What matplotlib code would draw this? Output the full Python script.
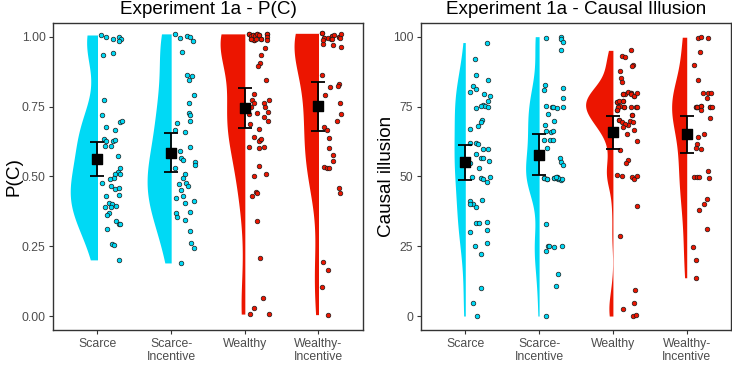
import numpy as np
import matplotlib
matplotlib.use("Agg")
import matplotlib.pyplot as plt

plt.rcParams['font.family'] = ['Liberation Sans', 'DejaVu Sans']

categories = ["Scarce", "Scarce-\nIncentive", "Wealthy", "Wealthy-\nIncentive"]
group_colors = ["#00D9F5", "#00D9F5", "#EC1500", "#EC1500"]

# ---------------- Experiment 1a - P(C) ----------------
pc_scarce = [1.006, 1.000, 0.990, 1.000, 0.993, 0.986, 0.935, 0.941, 0.773, 0.719, 0.678, 0.666,
             0.694, 0.699, 0.634, 0.625, 0.608, 0.627, 0.631, 0.608, 0.572, 0.530, 0.515, 0.509,
             0.508, 0.495, 0.489, 0.477, 0.465, 0.453, 0.459, 0.435, 0.429, 0.405, 0.401, 0.392,
             0.389, 0.394, 0.370, 0.363, 0.340, 0.328, 0.328, 0.313, 0.257, 0.256, 0.201]
pc_scarce_dx = [0.05, 0.12, 0.21, 0.29, 0.32, 0.29, 0.08, 0.21, 0.09, 0.06, 0.11, 0.24,
                0.30, 0.33, 0.09, 0.11, 0.10, 0.21, 0.24, 0.19, 0.28, 0.31, 0.28, 0.30,
                0.24, 0.22, 0.17, 0.06, 0.19, 0.24, 0.29, 0.29, 0.12, 0.16, 0.20, 0.10,
                0.19, 0.25, 0.15, 0.13, 0.25, 0.29, 0.31, 0.13, 0.20, 0.23, 0.29]

pc_scarce_inc = [1.010, 0.995, 1.002, 1.000, 0.986, 0.944, 0.862, 0.860, 0.844, 0.790, 0.763, 0.727,
                 0.719, 0.699, 0.690, 0.665, 0.658, 0.606, 0.589, 0.565, 0.559, 0.552, 0.541, 0.530,
                 0.507, 0.495, 0.473, 0.477, 0.466, 0.452, 0.422, 0.428, 0.404, 0.411, 0.369, 0.354,
                 0.371, 0.342, 0.304, 0.262, 0.244, 0.190]
pc_scarce_inc_dx = [0.05, 0.12, 0.21, 0.26, 0.30, 0.15, 0.22, 0.28, 0.24, 0.31, 0.24, 0.24,
                    0.25, 0.25, 0.08, 0.05, 0.19, 0.25, 0.12, 0.14, 0.16, 0.33, 0.32, 0.05,
                    0.19, 0.16, 0.11, 0.20, 0.23, 0.13, 0.07, 0.16, 0.19, 0.31, 0.06, 0.08,
                    0.25, 0.19, 0.26, 0.27, 0.31, 0.14]

# the first ten points of the top cluster are counted twice: overlapping, hidden points at 1.0
pc_wealthy = [1.010, 1.002, 1.005, 1.001, 1.010, 1.005, 0.993, 0.988, 0.990, 1.008,
              1.010, 1.002, 1.005, 1.001, 1.010, 1.005, 0.993, 0.988, 0.990, 1.008, 1.000, 0.988,
              0.990, 0.960, 0.936, 0.905, 0.895, 0.844, 0.793, 0.775, 0.763, 0.763, 0.774, 0.750,
              0.747, 0.725, 0.730, 0.723, 0.711, 0.698, 0.686, 0.669, 0.642, 0.631, 0.625, 0.633,
              0.605, 0.600, 0.606, 0.536, 0.508, 0.502, 0.444, 0.440, 0.429, 0.339, 0.207, 0.063,
              0.029, 0.007, 0.007]
pc_wealthy_dx = [0.05, 0.08, 0.11, 0.14, 0.16, 0.19, 0.22, 0.13, 0.09, 0.30,
                 0.05, 0.08, 0.11, 0.14, 0.16, 0.19, 0.22, 0.13, 0.09, 0.30, 0.30, 0.30,
                 0.15, 0.28, 0.22, 0.20, 0.18, 0.29, 0.12, 0.10, 0.12, 0.26, 0.33, 0.28,
                 0.08, 0.16, 0.32, 0.06, 0.26, 0.31, 0.07, 0.19, 0.13, 0.20, 0.19, 0.22,
                 0.06, 0.19, 0.26, 0.19, 0.29, 0.12, 0.15, 0.17, 0.10, 0.16, 0.20, 0.25,
                 0.13, 0.07, 0.33]

pc_wealthy_inc = [1.012, 0.994, 1.002, 1.000,
                  1.012, 0.994, 0.973, 0.996, 1.002, 1.005, 0.990, 0.990, 1.000, 1.010, 0.996, 0.969,
                  0.964, 0.988, 0.862, 0.820, 0.829, 0.824, 0.790, 0.763, 0.722, 0.699, 0.678, 0.667,
                  0.637, 0.600, 0.577, 0.556, 0.534, 0.530, 0.529, 0.459, 0.440, 0.193, 0.163, 0.103,
                  0.005]
pc_wealthy_inc_dx = [0.05, 0.08, 0.18, 0.28,
                     0.05, 0.08, 0.06, 0.13, 0.18, 0.21, 0.17, 0.19, 0.28, 0.31, 0.29, 0.20,
                     0.31, 0.06, 0.05, 0.16, 0.28, 0.27, 0.09, 0.29, 0.30, 0.25, 0.07, 0.12,
                     0.14, 0.14, 0.20, 0.20, 0.08, 0.12, 0.14, 0.28, 0.29, 0.06, 0.13, 0.05,
                     0.13]

pc_means = [0.561, 0.585, 0.745, 0.752]
pc_lower = [0.501, 0.514, 0.672, 0.664]
pc_upper = [0.622, 0.654, 0.815, 0.838]

# ---------------- Experiment 1a - Causal Illusion ----------------
ci_scarce = [97.9, 92.0, 86.2, 84.5, 82.3, 81.3, 80.1, 79.4, 78.7, 76.8, 74.6, 75.5, 75.1, 75.3, 75.0,
             70.0, 69.6, 67.9, 66.8, 61.9, 61.9, 61.7, 59.9, 58.0, 59.8, 56.7, 56.6, 55.5, 54.9, 52.9,
             49.7, 49.3, 48.9, 47.9, 49.7, 41.5, 41.1, 40.0, 40.0, 39.0, 33.2, 33.2, 33.8, 30.8, 30.1,
             26.0, 25.0, 22.1, 9.9, 4.6, 0.0]
ci_scarce_dx = [0.30, 0.13, 0.14, 0.31, 0.11, 0.14, 0.07, 0.26, 0.33, 0.31, 0.15, 0.24, 0.27, 0.21, 0.31,
                0.23, 0.21, 0.17, 0.07, 0.06, 0.15, 0.17, 0.31, 0.15, 0.24, 0.21, 0.24, 0.32, 0.07, 0.18,
                0.09, 0.21, 0.24, 0.29, 0.33, 0.22, 0.06, 0.10, 0.06, 0.15, 0.14, 0.18, 0.29, 0.29, 0.07,
                0.29, 0.13, 0.21, 0.21, 0.11, 0.16]

ci_scarce_inc = [49.5, 49.1, 49.5, 49.6,
                 99.6, 100.0, 99.0, 98.2, 95.2, 82.8, 81.0, 81.6, 78.0, 75.0, 75.1, 74.8, 75.0, 74.6,
                 72.4, 69.9, 68.3, 66.2, 66.0, 66.3, 63.0, 63.0, 63.1, 60.2, 56.6, 55.2, 54.1, 49.5,
                 49.1, 49.5, 49.6, 49.1, 48.8, 49.0, 49.3, 49.8, 32.8, 25.0, 25.0, 24.6, 25.0, 23.1,
                 15.1, 10.8, 0.0]
ci_scarce_inc_dx = [0.07, 0.11, 0.20, 0.24,
                    0.09, 0.29, 0.30, 0.33, 0.29, 0.08, 0.06, 0.33, 0.32, 0.33, 0.09, 0.17, 0.19, 0.24,
                    0.12, 0.20, 0.08, 0.09, 0.16, 0.19, 0.07, 0.15, 0.19, 0.11, 0.28, 0.30, 0.33, 0.07,
                    0.11, 0.20, 0.24, 0.26, 0.29, 0.31, 0.26, 0.23, 0.10, 0.12, 0.14, 0.20, 0.31, 0.09,
                    0.25, 0.23, 0.09]

ci_wealthy = [70.3, 71.8, 73.8, 75.0, 74.9, 76.7, 76.9, 78.6, 79.3, 79.9,
              95.1, 93.1, 92.9, 89.9, 89.4, 87.8, 85.3, 83.7, 79.5, 80.3, 79.9, 79.4, 78.6, 79.9, 79.3,
              76.7, 76.8, 76.9, 74.9, 75.1, 75.0, 73.8, 74.7, 74.9, 75.0, 71.8, 70.3, 69.3, 69.8, 68.3,
              69.4, 68.8, 67.5, 66.7, 65.0, 62.7, 59.5, 55.8, 54.7, 50.4, 50.2, 49.7, 48.9, 50.1, 39.5,
              28.5, 9.4, 4.5, 2.6, 0.0, 0.3]
ci_wealthy_dx = [0.08, 0.26, 0.06, 0.07, 0.15, 0.05, 0.14, 0.28, 0.13, 0.24,
                 0.25, 0.12, 0.17, 0.27, 0.26, 0.10, 0.11, 0.12, 0.17, 0.21, 0.24, 0.25, 0.28, 0.33, 0.13,
                 0.05, 0.08, 0.14, 0.15, 0.10, 0.07, 0.06, 0.24, 0.31, 0.33, 0.26, 0.08, 0.12, 0.23, 0.21,
                 0.27, 0.17, 0.14, 0.29, 0.19, 0.32, 0.09, 0.20, 0.18, 0.06, 0.12, 0.26, 0.29, 0.33, 0.32,
                 0.10, 0.30, 0.28, 0.14, 0.27, 0.31]

ci_wealthy_inc = [74.8, 75.0, 75.1, 74.7,
                  99.6, 99.8, 99.5, 94.6, 90.0, 84.5, 79.8, 80.0, 79.7, 77.9, 74.8, 75.0, 75.1, 73.6,
                  74.7, 74.8, 71.0, 65.2, 64.1, 61.6, 60.2, 59.8, 49.7, 49.8, 49.7, 51.8, 49.5, 41.9,
                  40.0, 38.1, 31.2, 24.7, 19.9, 13.7]
ci_wealthy_inc_dx = [0.12, 0.14, 0.19, 0.32,
                     0.15, 0.19, 0.29, 0.18, 0.10, 0.15, 0.22, 0.29, 0.33, 0.27, 0.12, 0.14, 0.19, 0.19,
                     0.32, 0.34, 0.32, 0.23, 0.15, 0.14, 0.13, 0.19, 0.10, 0.14, 0.17, 0.29, 0.30, 0.27,
                     0.24, 0.17, 0.28, 0.09, 0.13, 0.13]

ci_means = [55.3, 57.8, 65.8, 65.2]
ci_lower = [48.8, 50.5, 59.8, 58.3]
ci_upper = [61.4, 65.3, 71.5, 71.7]


def nrd0(x):
    x = np.asarray(x, float)
    sd = np.std(x, ddof=1)
    iqr = np.subtract(*np.percentile(x, [75, 25]))
    lo = min(sd, iqr / 1.34) if iqr > 0 else sd
    return 0.9 * lo * len(x) ** -0.2


def kde(x, grid):
    x = np.asarray(x, float)
    bw = nrd0(x)
    z = (grid[:, None] - x[None, :]) / bw
    return np.exp(-0.5 * z ** 2).sum(axis=1) / (len(x) * bw * np.sqrt(2 * np.pi))


def panel(ax, groups, offsets, means, lower, upper, title, ylabel, ylabel_x,
          yticks, yticklabels, ylim):
    grids, dens = [], []
    for g in groups:
        grid = np.linspace(min(g), max(g), 512)
        grids.append(grid)
        dens.append(kde(g, grid))
    dmax = max(d.max() for d in dens)
    half = 0.37
    for i, (g, dx, grid, d) in enumerate(zip(groups, offsets, grids, dens)):
        pos = i + 1
        ax.fill_betweenx(grid, pos - half * d / dmax, pos, color=group_colors[i], lw=0, zorder=1)
        ax.scatter(pos + np.asarray(dx), g, s=11, c=group_colors[i], edgecolors='#1a1a1a',
                   linewidths=0.5, zorder=3)
    xs = np.arange(1, len(groups) + 1)
    m = np.asarray(means)
    ax.errorbar(xs, m, yerr=[m - np.asarray(lower), np.asarray(upper) - m], fmt='none',
                ecolor='black', elinewidth=1.3, capsize=5.3, capthick=1.3, zorder=4)
    ax.scatter(xs, m, marker='s', s=48, c='black', zorder=5)
    ax.set_xlim(0.4, 4.6)
    ax.set_ylim(*ylim)
    ax.set_xticks(xs)
    ax.set_xticklabels(categories, fontsize=8.8, color='#4D4D4D', linespacing=1.15)
    ax.set_yticks(yticks)
    ax.set_yticklabels(yticklabels, fontsize=8.8, color='#4D4D4D')
    ax.tick_params(length=3, width=0.8, color='#333333', pad=2.5)
    for s in ax.spines.values():
        s.set_color('#333333')
        s.set_linewidth(1.0)
    ax.set_title(title, fontsize=13.6, pad=6)
    ax.set_ylabel(ylabel, fontsize=13.6)
    ax.yaxis.set_label_coords(ylabel_x, 0.5)


fig = plt.figure(figsize=(7.32, 3.68), dpi=100)
ax1 = fig.add_axes([53.3 / 732, 1 - 330 / 368, (362.7 - 53.3) / 732, (330 - 22.7) / 368])
ax2 = fig.add_axes([421 / 732, 1 - 330 / 368, (731 - 421) / 732, (330 - 22.7) / 368])

panel(ax1, [pc_scarce, pc_scarce_inc, pc_wealthy, pc_wealthy_inc],
      [pc_scarce_dx, pc_scarce_inc_dx, pc_wealthy_dx, pc_wealthy_inc_dx],
      pc_means, pc_lower, pc_upper, "Experiment 1a - P(C)", "P(C)", -0.10,
      [0, 0.25, 0.5, 0.75, 1.0], ["0.00", "0.25", "0.50", "0.75", "1.00"], (-0.05, 1.05))
panel(ax2, [ci_scarce, ci_scarce_inc, ci_wealthy, ci_wealthy_inc],
      [ci_scarce_dx, ci_scarce_inc_dx, ci_wealthy_dx, ci_wealthy_inc_dx],
      ci_means, ci_lower, ci_upper, "Experiment 1a - Causal Illusion", "Causal illusion", -0.084,
      [0, 25, 50, 75, 100], ["0", "25", "50", "75", "100"], (-5, 105))

fig.savefig("out.png", dpi=100)
